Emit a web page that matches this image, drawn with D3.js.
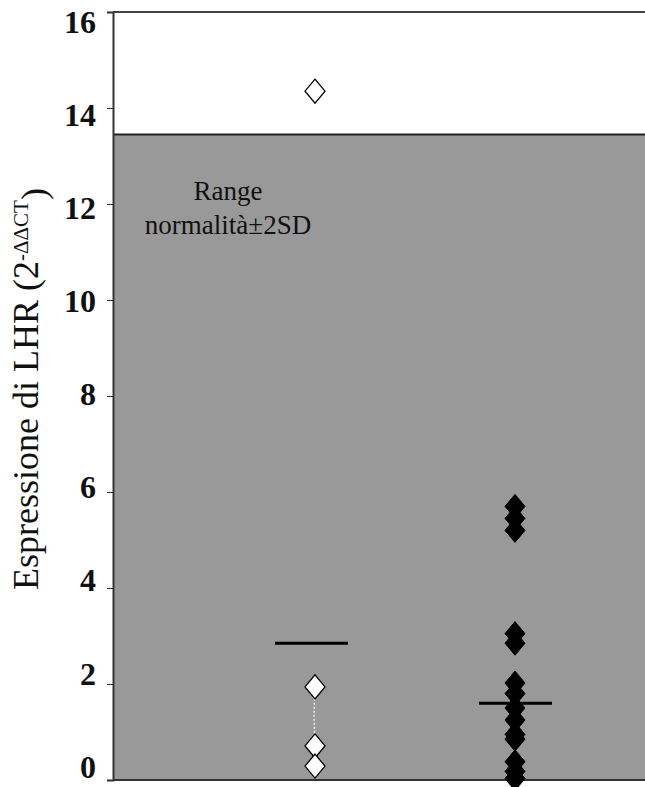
<!DOCTYPE html>
<meta charset="utf-8">
<head>
<script src="https://d3js.org/d3.v7.min.js"></script>
<style>
  body { margin: 0; background: #fff; }
  text { font-family: "Liberation Serif", "DejaVu Serif", serif; }
  .tick text { font-weight: bold; font-size: 32px; }
  .ylabel { font-size: 36px; }
  .range { font-size: 27px; }
</style>
</head>
<body>
<div id="graph"></div>
<script>
// data
var yTicks = [0, 2, 4, 6, 8, 10, 12, 14, 16];
var groups = ["controlli", "pazienti"];
var whiteValues = [14.35, 1.94, 0.71, 0.29];
var blackValues = [5.7, 5.45, 5.2, 3.05, 2.85, 2.02, 1.8, 1.5, 1.25, 0.95, 0.85, 0.38, 0.18, 0.03];
var groupMeans = [2.85, 1.6];
var normalRange = [0, 13.45];

var W = 645, H = 787;
var margin = {top: 12, right: 0, bottom: 7, left: 113};
var width = W - margin.left - margin.right,
    height = H - margin.top - margin.bottom;

var svg = d3.select("#graph").append("svg")
    .attr("width", W).attr("height", H)
  .append("g")
    .attr("transform", "translate(" + margin.left + "," + margin.top + ")");

var y = d3.scaleLinear().domain([0, 16]).range([height, 0]);
var x = d3.scalePoint().domain(groups).range([202, 402]);

// normal range band
svg.append("rect")
    .attr("x", 0).attr("width", width)
    .attr("y", y(normalRange[1]))
    .attr("height", y(normalRange[0]) - y(normalRange[1]))
    .attr("fill", "#999999");
svg.append("line")
    .attr("x1", 0).attr("x2", width)
    .attr("y1", y(normalRange[1])).attr("y2", y(normalRange[1]))
    .attr("stroke", "#222").attr("stroke-width", 2);

// top border
svg.append("line")
    .attr("x1", 0).attr("x2", width)
    .attr("y1", 0).attr("y2", 0)
    .attr("stroke", "#444").attr("stroke-width", 2);
// bottom line
svg.append("line")
    .attr("x1", 0).attr("x2", width)
    .attr("y1", height).attr("y2", height)
    .attr("stroke", "#333").attr("stroke-width", 2);

// y axis
var yAxis = d3.axisLeft(y).tickValues(yTicks).tickSize(6).tickPadding(11);
var gy = svg.append("g").call(yAxis);
gy.attr("font-family", null).attr("font-size", null);
gy.select(".domain").attr("stroke", "#333").attr("stroke-width", 2);
gy.selectAll(".tick line").attr("stroke", "#333");
// labels drift from below the tick (top) to above it (bottom)
gy.selectAll(".tick text")
    .attr("dy", null)
    .attr("y", function(d) { return 13 - (16 - d) * 1.45; })
    .attr("dominant-baseline", "middle")
    .attr("fill", "#111");

// y label
var lab = svg.append("text")
    .attr("class", "ylabel")
    .attr("transform", "translate(" + (38 - margin.left) + "," + (389 - margin.top) + ") rotate(-90)")
    .attr("text-anchor", "middle")
    .attr("fill", "#111");
lab.append("tspan").text("Espressione di LHR (2");
lab.append("tspan").attr("dy", "-0.5em").style("font-size", "21px").text("-ΔΔCT");
lab.append("tspan").attr("dy", "0.5em").text(")");

// range label
var rl = svg.append("text")
    .attr("class", "range")
    .attr("text-anchor", "middle")
    .attr("fill", "#111");
rl.append("tspan").attr("x", 228 - margin.left).attr("y", 200 - margin.top).text("Range");
rl.append("tspan").attr("x", 228 - margin.left).attr("y", 234 - margin.top).text("normalità±2SD");

// dotted connector in first group
svg.append("path")
    .attr("d", "M" + x(groups[0]) + "," + y(whiteValues[1]) +
               " L" + (x(groups[0]) - 1) + "," + (y(whiteValues[1]) + 28) +
               " L" + x(groups[0]) + "," + y(whiteValues[2]))
    .attr("fill", "none")
    .attr("stroke", "#e8e8e8").attr("stroke-width", 1.5)
    .attr("stroke-dasharray", "2,2");

function diamond(w, h) {
  return "M0," + (-h / 2) + " L" + (w / 2) + ",0 L0," + (h / 2) + " L" + (-w / 2) + ",0 Z";
}

// mean line of first group
svg.append("line")
    .attr("x1", x(groups[0]) - 40).attr("x2", x(groups[0]) + 33)
    .attr("y1", y(groupMeans[0])).attr("y2", y(groupMeans[0]))
    .attr("stroke", "#000").attr("stroke-width", 3);

// white diamonds
svg.selectAll(".wd").data(whiteValues).enter().append("path")
    .attr("d", diamond(20, 24))
    .attr("transform", function(d) { return "translate(" + x(groups[0]) + "," + y(d) + ")"; })
    .attr("fill", "#fff").attr("stroke", "#000").attr("stroke-width", 1.3);

// black diamonds
svg.selectAll(".bd").data(blackValues).enter().append("path")
    .attr("d", diamond(20, 24))
    .attr("transform", function(d) { return "translate(" + x(groups[1]) + "," + y(d) + ")"; })
    .attr("fill", "#000").attr("stroke", "#000").attr("stroke-width", 1);

// mean line of second group on top of the diamonds
svg.append("line")
    .attr("x1", x(groups[1]) - 36).attr("x2", x(groups[1]) + 37)
    .attr("y1", y(groupMeans[1])).attr("y2", y(groupMeans[1]))
    .attr("stroke", "#000").attr("stroke-width", 3);
</script>
</body>
